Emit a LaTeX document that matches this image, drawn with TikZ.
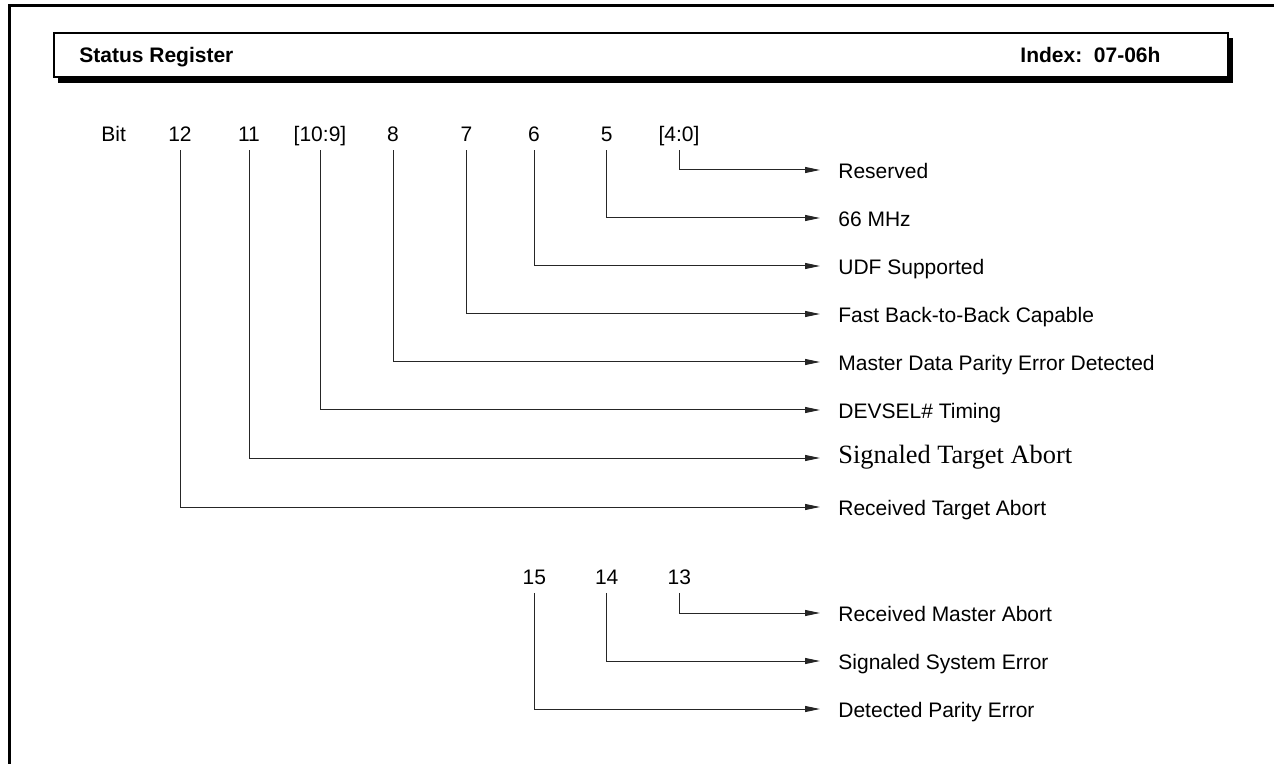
\documentclass[tikz,border=0pt]{standalone}
\usepackage{fontspec}
\setmainfont{Liberation Sans}
\newfontfamily\tnrfont{Liberation Serif}
\usetikzlibrary{arrows.meta}
\begin{document}
\begin{tikzpicture}[x=0.5pt,y=-0.5pt,
  every node/.style={font=\fontsize{10.5}{12}\selectfont},
  bitlbl/.style={anchor=base, inner xsep=0pt, inner ysep=4.2pt, text height=7.6pt, text depth=0pt},
  desc/.style={anchor=west, inner xsep=9pt, inner ysep=0pt, text height=8.4pt, text depth=0pt},
  conn/.style={draw=black!85, line width=0.5pt, -{Triangle[length=7.5pt,width=3pt]}},
  hdrtext/.style={anchor=base west, inner sep=0pt, font=\fontsize{10.5}{12}\selectfont\bfseries},
]
\useasboundingbox (0,0) rectangle (1274,764);
% outer frame
\draw[line width=1.5pt] (9.5,764) -- (9.5,5.5) -- (1274,5.5);
% header box with shadow
\fill[black] (58,38) rectangle (1233,83);
\draw[line width=1pt, fill=white] (53.5,33.5) rectangle (1228,77.5);
\node[hdrtext] (title) at (79,63) {Status Register};
\node[hdrtext] (index) at (1020,63) {Index:~~07-06h};
% bit labels
\node[bitlbl, anchor=base west] (bit) at (101,141.7) {Bit};
\node[bitlbl] (b12) at (180,141.7) {12};
\node[bitlbl] (b11) at (249,141.7) {11};
\node[bitlbl] (b109) at (320,141.7) {[10:9]};
\node[bitlbl] (b8) at (393,141.7) {8};
\node[bitlbl] (b7) at (466.5,141.7) {7};
\node[bitlbl] (b6) at (534,141.7) {6};
\node[bitlbl] (b5) at (606.7,141.7) {5};
\node[bitlbl] (b40) at (679,141.7) {[4:0]};
\node[bitlbl] (b15) at (534.3,584) {15};
\node[bitlbl] (b14) at (606.7,584) {14};
\node[bitlbl] (b13) at (679.3,584) {13};
% descriptions
\node[desc] (tres) at (820,170) {Reserved};
\node[desc] (t66) at (820,218) {66 MHz};
\node[desc] (tudf) at (820,266) {UDF Supported};
\node[desc] (tfast) at (820,314) {Fast Back-to-Back Capable};
\node[desc] (tmdp) at (820,362) {Master Data Parity Error Detected};
\node[desc] (tdev) at (820,410) {DEVSEL\# Timing};
\node[desc, text height=5.6pt, font=\fontsize{13.2}{15}\tnrfont] (tsta) at (820,458) {Signaled Target Abort};
\node[desc] (trta) at (820,507) {Received Target Abort};
\node[desc] (trma) at (820,613) {Received Master Abort};
\node[desc] (tsse) at (820,661) {Signaled System Error};
\node[desc] (tdpe) at (820,709) {Detected Parity Error};
% connectors
\draw[conn] (b40.south) |- (tres.west);
\draw[conn] (b5.south) |- (t66.west);
\draw[conn] (b6.south) |- (tudf.west);
\draw[conn] (b7.south) |- (tfast.west);
\draw[conn] (b8.south) |- (tmdp.west);
\draw[conn] (b109.south) |- (tdev.west);
\draw[conn] (b11.south) |- (tsta.west);
\draw[conn] (b12.south) |- (trta.west);
\draw[conn] (b13.south) |- (trma.west);
\draw[conn] (b14.south) |- (tsse.west);
\draw[conn] (b15.south) |- (tdpe.west);
\end{tikzpicture}
\end{document}
